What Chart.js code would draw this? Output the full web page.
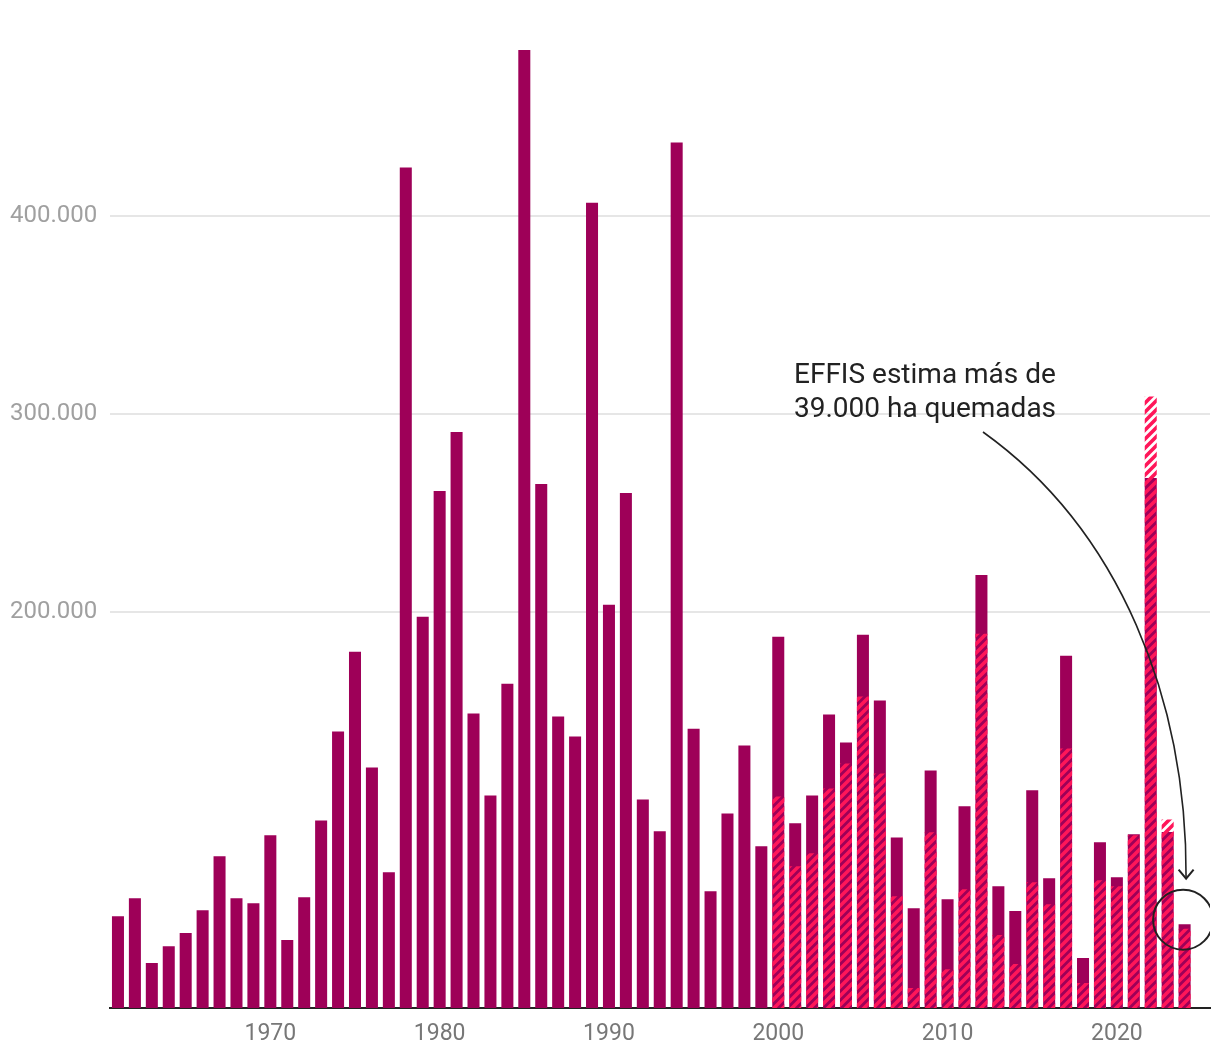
<!DOCTYPE html>
<html>
<head>
<meta charset="utf-8">
<script src="https://cdn.jsdelivr.net/npm/chart.js@4/dist/chart.umd.min.js"></script>
<style>
  html, body { margin: 0; padding: 0; background: #fff; }
  #wrap { width: 1220px; height: 1064px; }
</style>
</head>
<body>
<div id="wrap"><canvas id="c" width="1220" height="1064"></canvas></div>
<script>
// Years (1961–2024) plus an empty trailing slot
const years = [];
for (let y = 1961; y <= 2025; y++) years.push(String(y));

// Hectares burned (official statistics), 1961–2024
const totalHa = [
  46300, 55400, 22700, 31200, 37800, 49400, 76600, 55400, 52900, 87200,
  34300, 55900, 94700, 139500, 179800, 121400, 68500, 424200, 197500, 261000,
  290700, 148600, 107300, 163700, 483600, 264500, 147100, 137000, 406500, 203500,
  260000, 105300, 89200, 436800, 141000, 58900, 98200, 132500, 81600, 187400,
  93200, 107300, 148100, 134000, 188400, 155200, 86100, 50400, 119900, 54900,
  101800, 218600, 61500, 48900, 109900, 65500, 177800, 25200, 83600, 66000,
  87700, 267500, 88800, 42300
];

// EFFIS estimate, 2000–2024 (null before 2000)
const effisHa = [
  null, null, null, null, null, null, null, null, null, null,
  null, null, null, null, null, null, null, null, null, null,
  null, null, null, null, null, null, null, null, null, null,
  null, null, null, null, null, null, null, null, null, 106800,
  71500, 78100, 110800, 123400, 157200, 118400, 56400, 10100, 88700, 19600,
  59900, 188900, 36800, 22200, 63500, 52400, 131000, 12600, 64500, 61500,
  87200, 308600, 95200, 40000
];

const yTicks = [200000, 300000, 400000];
const xLabelYears = ['1970', '1980', '1990', '2000', '2010', '2020'];
const annotationLines = ['EFFIS estima más de', '39.000 ha quemadas'];
const annotatedYear = '2024';

const PURPLE = '#9e0058';
const PINK = '#ff1659';

function makeHatch() {
  const s = 9;
  const c = document.createElement('canvas');
  c.width = s; c.height = s;
  const g = c.getContext('2d');
  g.strokeStyle = PINK;
  g.lineWidth = 3.6;
  g.lineCap = 'square';
  g.beginPath();
  g.moveTo(-s, s); g.lineTo(s, -s);
  g.moveTo(-s, 2 * s); g.lineTo(2 * s, -s);
  g.moveTo(0, 2 * s); g.lineTo(2 * s, 0);
  g.stroke();
  return g.createPattern(c, 'repeat');
}

const fmt = v => v.toLocaleString('de-DE');

const annotationPlugin = {
  id: 'annot',
  afterDatasetsDraw(chart) {
    const ctx = chart.ctx;
    const xs = chart.scales.x, ys = chart.scales.y;
    const idx = years.indexOf(annotatedYear);
    const bx = xs.getPixelForValue(idx);
    const by = ys.getPixelForValue(totalHa[idx]);
    const r = 30;
    const cx = bx - 1.5, cy = by - 4.5;
    ctx.save();
    // text
    ctx.fillStyle = '#222';
    ctx.font = '28px Roboto';
    ctx.textAlign = 'left';
    ctx.textBaseline = 'alphabetic';
    ctx.fillText(annotationLines[0], 794, 383);
    ctx.fillText(annotationLines[1], 794, 417);
    // clip to plot right edge
    ctx.beginPath();
    ctx.rect(0, 0, chart.chartArea.right, chart.height);
    ctx.clip();
    // circle
    ctx.strokeStyle = '#222';
    ctx.lineWidth = 2;
    ctx.beginPath();
    ctx.arc(cx, cy, r, 0, Math.PI * 2);
    ctx.stroke();
    // curved arrow
    const ex = cx + 3, ey = cy - r - 11;
    ctx.lineWidth = 1.6;
    ctx.beginPath();
    ctx.moveTo(983, 432);
    ctx.bezierCurveTo(1120, 530, ex + 1, 700, ex, ey);
    ctx.stroke();
    ctx.lineWidth = 2;
    ctx.beginPath();
    ctx.moveTo(ex - 7.5, ey - 9);
    ctx.lineTo(ex, ey);
    ctx.lineTo(ex + 7.5, ey - 9);
    ctx.stroke();
    ctx.restore();
  }
};

const chart = new Chart(document.getElementById('c'), {
  type: 'bar',
  data: {
    labels: years,
    datasets: [
      {
        label: 'EFFIS',
        data: effisHa,
        backgroundColor: makeHatch(),
        grouped: false,
        order: 1,
        barPercentage: 0.71,
        categoryPercentage: 1.0
      },
      {
        label: 'Hectáreas quemadas',
        data: totalHa,
        backgroundColor: PURPLE,
        grouped: false,
        order: 2,
        barPercentage: 0.71,
        categoryPercentage: 1.0
      }
    ]
  },
  options: {
    responsive: false,
    animation: false,
    layout: { padding: { left: 10, right: 10, top: 15, bottom: 0 } },
    plugins: { legend: { display: false }, tooltip: { enabled: false } },
    scales: {
      x: {
        grid: { display: false, drawTicks: false },
        border: { display: true, color: '#222', width: 2 },
        afterFit: s => { s.height = 56; },
        ticks: {
          autoSkip: false,
          maxRotation: 0,
          minRotation: 0,
          padding: 12,
          color: '#777',
          font: { family: 'Roboto', size: 23 },
          callback: function (v) {
            const l = this.getLabelForValue(v);
            return xLabelYears.includes(l) ? l : '';
          }
        }
      },
      y: {
        min: 0,
        max: 500000,
        afterFit: s => { s.width = 99.5; },
        afterBuildTicks: s => { s.ticks = yTicks.map(v => ({ value: v })); },
        grid: { color: '#e6e6e6', lineWidth: 2, drawTicks: false },
        border: { display: false },
        ticks: {
          crossAlign: 'far',
          color: '#a0a0a0',
          font: { family: 'Roboto', size: 24 },
          callback: v => fmt(v)
        }
      }
    }
  },
  plugins: [annotationPlugin]
});
</script>
</body>
</html>
